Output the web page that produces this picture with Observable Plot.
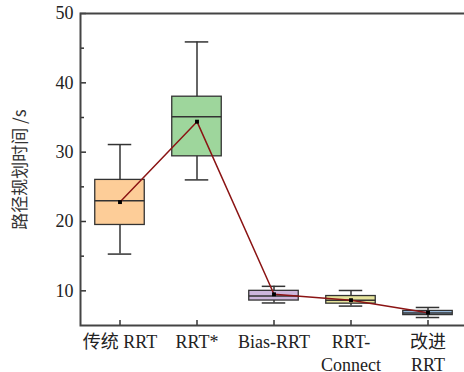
<!DOCTYPE html>
<html><head><meta charset="utf-8">
<script src="https://cdn.jsdelivr.net/npm/d3@7"></script>
<script src="https://cdn.jsdelivr.net/npm/@observablehq/plot@0.6"></script>
<style>body{margin:0;background:#fff;} svg{display:block;}</style>
</head><body><div id="chart"></div>
<script>
const categories = ["传统 RRT", "RRT*", "Bias-RRT", "RRT-Connect", "改进RRT"];
const tickLabels = ["传统 RRT", "RRT*", "Bias-RRT", "RRT-\nConnect", "改进\nRRT"];
const lowWhisker = [15.3, 26.0, 8.25, 7.8, 6.15];
const q1 = [19.5, 29.4, 8.6, 8.15, 6.5];
const median = [23.0, 35.1, 9.25, 8.65, 6.8];
const q3 = [26.0, 38.0, 10.0, 9.25, 7.1];
const highWhisker = [31.1, 45.9, 10.65, 10.05, 7.6];
const mean = [22.8, 34.4, 9.5, 8.65, 6.85];
const fills = ["#fdcd98", "#9ed69c", "#cdb6dc", "#e6e49c", "#9ec3ea"];
const yTitle = "路径规划时间 /s";

const data = categories.map((c, i) => ({
  cat: c, lo: lowWhisker[i], q1: q1[i], med: median[i], q3: q3[i], hi: highWhisker[i], mean: mean[i], fill: fills[i]
}));
const labelOf = new Map(categories.map((c, i) => [c, tickLabels[i]]));
const ink = "#333";
const serif = "'Liberation Serif', 'Noto Sans CJK SC', serif";

const chart = Plot.plot({
  width: 464, height: 372,
  marginTop: 13, marginBottom: 47, marginLeft: 80, marginRight: -3.5,
  style: {fontFamily: serif, fontSize: "18px", color: "#222", background: "#fff"},
  x: {domain: categories, range: [80, 467.5], padding: 0},
  y: {domain: [5, 50], range: [325, 13]},
  marks: [
    Plot.ruleX(data, {x: "cat", y1: "lo", y2: "hi", stroke: ink, strokeWidth: 1.5}),
    Plot.barY(data, {x: "cat", y1: "q1", y2: "q3", fill: "fill", stroke: ink, strokeWidth: 1.3, insetLeft: 13.75, insetRight: 13.75}),
    Plot.tickY(data, {x: "cat", y: "med", stroke: ink, strokeWidth: 1.5, insetLeft: 13.75, insetRight: 13.75}),
    Plot.tickY(data, {x: "cat", y: "hi", stroke: ink, strokeWidth: 1.5, insetLeft: 26.75, insetRight: 26.75}),
    Plot.tickY(data, {x: "cat", y: "lo", stroke: ink, strokeWidth: 1.5, insetLeft: 26.75, insetRight: 26.75}),
    Plot.line(data, {x: "cat", y: "mean", stroke: "#8b1414", strokeWidth: 1.5}),
    Plot.dot(data, {x: "cat", y: "mean", symbol: "square", r: 2.2, fill: "#000", stroke: "none"}),
    Plot.axisY({ticks: [15, 25, 35, 45], tickSize: -4, tickFormat: () => "", stroke: ink, strokeWidth: 1.5, label: null}),
    Plot.axisY({ticks: [10, 20, 30, 40, 50], tickSize: -6, tickPadding: 13, stroke: ink, strokeWidth: 1.5, fill: "#222",
      label: null, fontFamily: serif}),
    Plot.text([yTitle], {text: d => d, frameAnchor: "left", textAnchor: "middle", rotate: -90, dx: -60, fill: "#333",
      fontFamily: "'Noto Sans CJK SC', sans-serif", fontSize: 17}),
    Plot.axisX({tickSize: -5, tickPadding: 12, stroke: ink, strokeWidth: 1.5, fill: "#222", lineHeight: 1.25,
      tickFormat: d => labelOf.get(d), label: null, fontFamily: serif}),
    Plot.frame({stroke: "#444", strokeWidth: 2})
  ]
});
document.getElementById("chart").appendChild(chart);
</script>
</body></html>
